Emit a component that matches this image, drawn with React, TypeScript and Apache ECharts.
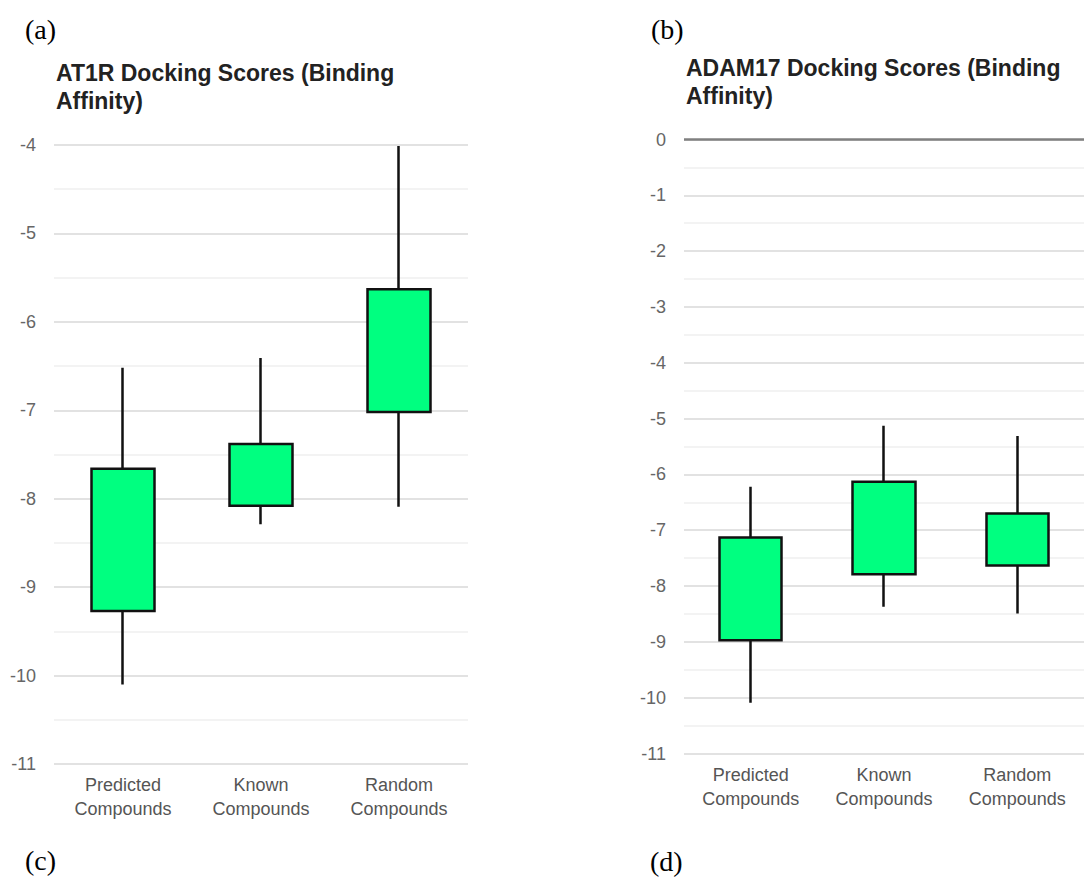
import React, { useEffect, useRef } from "react";
import * as echarts from "echarts";

const categories = ["Predicted\nCompounds", "Known\nCompounds", "Random\nCompounds"];

// AT1R docking scores: [q1, q3, min, max]
const at1rMin = [-10.1, -8.29, -8.09];
const at1rQ1 = [-9.27, -8.08, -7.02];
const at1rQ3 = [-7.66, -7.38, -5.63];
const at1rMax = [-6.52, -6.41, -4.01];

// ADAM17 docking scores
const adamMin = [-10.09, -8.37, -8.49];
const adamQ1 = [-8.97, -7.79, -7.63];
const adamQ3 = [-7.13, -6.13, -6.7];
const adamMax = [-6.22, -5.13, -5.31];

const at1rTitle = "AT1R Docking Scores (Binding\nAffinity)";
const adamTitle = "ADAM17 Docking Scores (Binding\nAffinity)";
const panelLabels = ["(a)", "(b)", "(c)", "(d)"];

const SANS = "'Liberation Sans', Arial, sans-serif";
const SERIF = "'Liberation Serif', 'Times New Roman', serif";
const GREEN = "#00ff80";

function boxData(q1: number[], q3: number[], lo: number[], hi: number[]) {
  return q1.map((v, i) => [v, q3[i], lo[i], hi[i]]);
}

function yAxisFor(gridIndex: number, min: number, max: number) {
  return {
    type: "value",
    gridIndex,
    min,
    max,
    interval: 1,
    axisLine: { show: false },
    axisTick: { show: false },
    axisLabel: { color: "#666", fontSize: 18, fontFamily: SANS, margin: 18 },
    splitLine: { show: true, lineStyle: { color: "#d9d9d9", width: 1.5 } },
    minorTick: { show: false, splitNumber: 2 },
    minorSplitLine: { show: true, lineStyle: { color: "#efefef", width: 1.5 } },
  };
}

function xAxisFor(gridIndex: number) {
  return {
    type: "category",
    gridIndex,
    data: categories,
    axisLine: { show: false },
    axisTick: { show: false },
    axisLabel: {
      color: "#555",
      fontSize: 18,
      fontFamily: SANS,
      lineHeight: 24,
      margin: 9,
      interval: 0,
    },
    splitLine: { show: false },
  };
}

const boxStyle = {
  color: GREEN,
  color0: GREEN,
  borderColor: "#111",
  borderColor0: "#111",
  borderWidth: 2.5,
};

export default function App() {
  const ref = useRef<HTMLDivElement>(null);
  useEffect(() => {
    if (!ref.current) return;
    const chart = echarts.init(ref.current, undefined, { renderer: "svg" });
    const panelPos = [
      [25, 29],
      [651, 29],
      [25, 860],
      [650, 861],
    ];
    chart.setOption({
      animation: false,
      backgroundColor: "#fff",
      title: [
        {
          text: at1rTitle,
          left: 56,
          top: 58.5,
          padding: 0,
          textStyle: {
            fontFamily: SANS,
            fontSize: 23,
            fontWeight: "bold",
            color: "#222",
            lineHeight: 28.5,
          },
        },
        {
          text: adamTitle,
          left: 686,
          top: 53.5,
          padding: 0,
          textStyle: {
            fontFamily: SANS,
            fontSize: 23,
            fontWeight: "bold",
            color: "#222",
            lineHeight: 28.5,
          },
        },
      ],
      grid: [
        { left: 54, top: 145, width: 414, height: 619 },
        { left: 684, top: 139.5, width: 406, height: 614 },
      ],
      xAxis: [xAxisFor(0), xAxisFor(1)],
      yAxis: [yAxisFor(0, -11, -4), yAxisFor(1, -11, 0)],
      series: [
        {
          type: "candlestick",
          xAxisIndex: 0,
          yAxisIndex: 0,
          barWidth: 64,
          itemStyle: boxStyle,
          data: boxData(at1rQ1, at1rQ3, at1rMin, at1rMax),
        },
        {
          type: "candlestick",
          xAxisIndex: 1,
          yAxisIndex: 1,
          barWidth: 63,
          itemStyle: boxStyle,
          data: boxData(adamQ1, adamQ3, adamMin, adamMax),
          markLine: {
            silent: true,
            symbol: "none",
            label: { show: false },
            lineStyle: { color: "#808080", width: 2.5, type: "solid" },
            data: [{ yAxis: 0 }],
          },
        },
      ],
      graphic: panelLabels.map((t, i) => ({
        type: "text",
        left: panelPos[i][0],
        top: panelPos[i][1] - 14,
        style: {
          text: t,
          fontFamily: SERIF,
          fontSize: 28,
          fill: "#000",
        },
      })),
    });
    return () => chart.dispose();
  }, []);
  return (
    <div
      ref={ref}
      style={{ position: "fixed", left: 0, top: 0, width: 1084, height: 877 }}
    />
  );
}
